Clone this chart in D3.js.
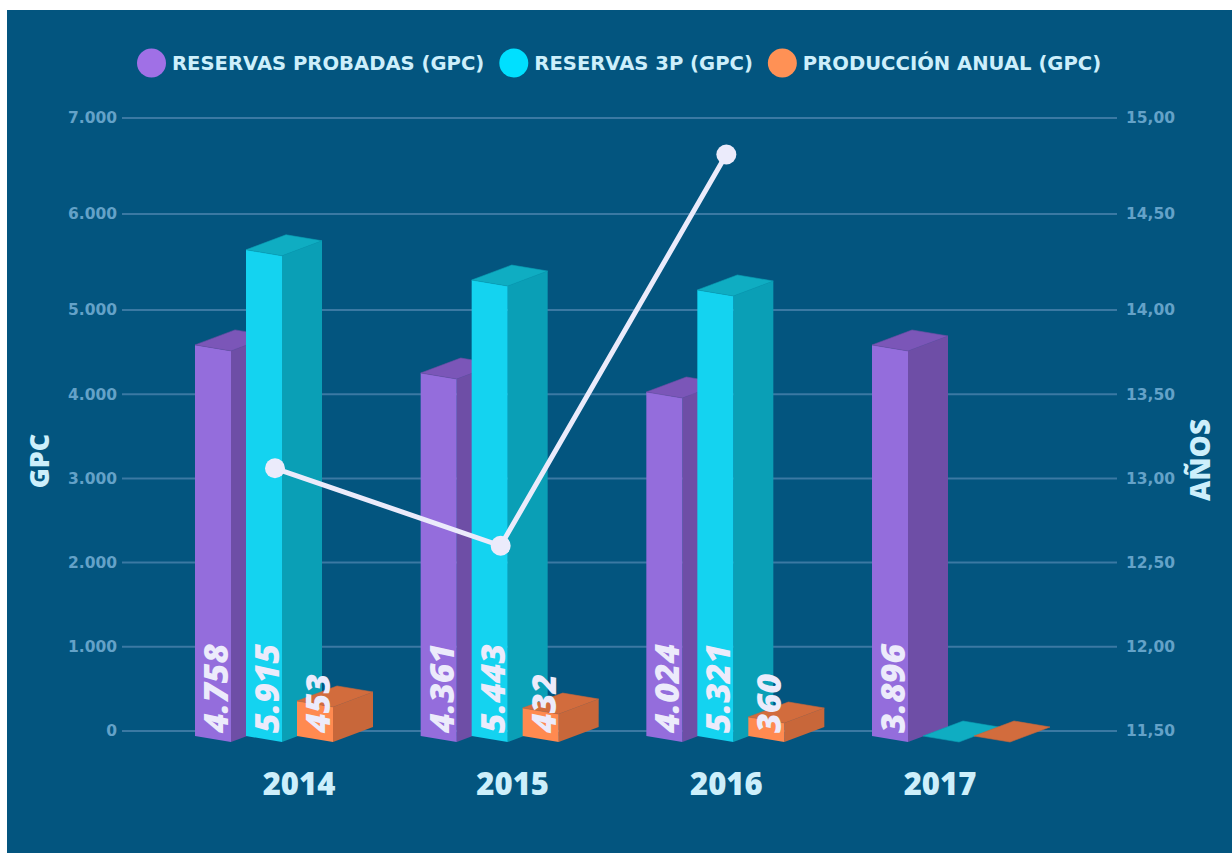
<!DOCTYPE html>
<html>
<head>
<meta charset="utf-8">
<script src="https://cdn.jsdelivr.net/npm/d3@7"></script>
<style>
  html, body { margin: 0; padding: 0; background: #ffffff; }
  svg { display: block; }
  text { font-family: "Open Sans", "DejaVu Sans", sans-serif; }
</style>
</head>
<body>
<svg id="chart" width="1232" height="853"></svg>
<script>
// ---------- DATA ----------
const years = ["2014", "2015", "2016", "2017"];
const seriesNames = ["RESERVAS PROBADAS (GPC)", "RESERVAS 3P (GPC)", "PRODUCCIÓN ANUAL (GPC)"];
// value labels printed on the bars
const reservasProbadas = [4758, 4361, 4024, 3896];
const reservas3P = [5915, 5443, 5321, 0];
const produccionAnual = [453, 432, 360, 0];
// bar heights as drawn in the picture (GPC units on the bar scale)
const probadasDrawn = [4758, 4416, 4185, 4757];
const reservas3PDrawn = [5915, 5547, 5426, 0];
const produccionDrawn = [426, 340, 231, 0];
const lineYears = ["2014", "2015", "2016"];
const anosValues = [13.06, 12.60, 14.81];
const leftTicks = [0, 1000, 2000, 3000, 4000, 5000, 6000, 7000];
const rightTicks = [11.5, 12, 12.5, 13, 13.5, 14, 14.5, 15];
const leftTitle = "GPC";
const rightTitle = "AÑOS";

// ---------- STYLE ----------
const bg = "#03557f";
const palette = [
  { legend: "#a070e6", front: "#946ddc", side: "#6e4ea6", top: "#7b56b8" },
  { legend: "#00e0ff", front: "#14d3f0", side: "#0a9fb6", top: "#0fadc2" },
  { legend: "#ff9155", front: "#ff8a50", side: "#c8673a", top: "#d26c3d" }
];
const lightText = "#cdeffb";
const tickText = "#64a2c8";
const gridColor = "#3b79a3";
const labelColor = "#ecebfb";
const wideFont = "'DejaVu Sans', sans-serif";

const loc = d3.formatLocale({ decimal: ",", thousands: ".", grouping: [3], currency: ["", ""] });
const fmtInt = loc.format(",.0f");
const fmtDec = loc.format(",.2f");

const svg = d3.select("#chart");
svg.append("rect").attr("x", 7).attr("y", 10).attr("width", 1225).attr("height", 843).attr("fill", bg);

// ---------- SCALES ----------
const yAxisL = d3.scaleLinear().domain([0, 5000, 7000]).range([731, 310, 118]);
const yAxisR = d3.scaleLinear().domain([11.5, 14, 15]).range([731, 310, 118]);
const baseY = 736;
const yBar = d3.scaleLinear().domain([0, 7000]).range([baseY, baseY - 7000 * 0.0822]);
const x0 = d3.scalePoint().domain(years).range([195, 872]);
const x1 = d3.scalePoint().domain(seriesNames).range([0, 102]);
const xLabel = d3.scalePoint().domain(years).range([299, 940]);
const gridX0 = 122, gridX1 = 1117;

// ---------- GRID + AXES ----------
svg.append("g").selectAll("line").data(leftTicks).join("line")
  .attr("x1", gridX0).attr("x2", gridX1)
  .attr("y1", d => yAxisL(d)).attr("y2", d => yAxisL(d))
  .attr("stroke", gridColor).attr("stroke-width", 2);

const axL = svg.append("g").attr("transform", `translate(${gridX0},0)`)
  .call(d3.axisLeft(yAxisL).tickValues(leftTicks).tickFormat(fmtInt).tickSize(0).tickPadding(5));
axL.select(".domain").remove();
axL.selectAll("text").attr("fill", tickText).attr("font-size", 15.5).attr("font-weight", 700)
  .style("font-family", wideFont);

const axR = svg.append("g").attr("transform", `translate(${gridX1},0)`)
  .call(d3.axisRight(yAxisR).tickValues(rightTicks).tickFormat(fmtDec).tickSize(0).tickPadding(9));
axR.select(".domain").remove();
axR.selectAll("text").attr("fill", tickText).attr("font-size", 15.5).attr("font-weight", 700)
  .style("font-family", wideFont);

svg.append("text").attr("transform", "translate(49,461) rotate(-90)")
  .attr("text-anchor", "middle").attr("fill", lightText).attr("font-size", 27).attr("font-weight", 800)
  .text(leftTitle);
svg.append("text").attr("transform", "translate(1210,460) rotate(-90)")
  .attr("text-anchor", "middle").attr("fill", lightText).attr("font-size", 28).attr("font-weight", 800)
  .text(rightTitle);

// ---------- 3D BARS ----------
const seriesLabels = [reservasProbadas, reservas3P, produccionAnual];
const seriesDrawn = [probadasDrawn, reservas3PDrawn, produccionDrawn];
const fw = [36, 6];    // front face vector
const dp = [40, -15];  // depth vector
const bars = [];
years.forEach((yr, i) => {
  seriesNames.forEach((s, j) => {
    bars.push({ year: yr, series: j, label: seriesLabels[j][i], value: seriesDrawn[j][i], fx: x0(yr) + x1(s) });
  });
});
const pts = a => a.map(p => p.join(",")).join(" ");
const barG = svg.append("g");
bars.forEach(b => {
  const c = palette[b.series];
  const by = baseY, ty = yBar(b.value), fx = b.fx;
  const g = barG.append("g");
  g.append("polygon").attr("points", pts([[fx + fw[0], ty + fw[1]], [fx + fw[0] + dp[0], ty + fw[1] + dp[1]], [fx + fw[0] + dp[0], by + fw[1] + dp[1]], [fx + fw[0], by + fw[1]]]))
    .attr("fill", c.side);
  g.append("polygon").attr("points", pts([[fx, ty], [fx + fw[0], ty + fw[1]], [fx + fw[0], by + fw[1]], [fx, by]]))
    .attr("fill", c.front);
  g.append("polygon").attr("points", pts([[fx, ty], [fx + fw[0], ty + fw[1]], [fx + fw[0] + dp[0], ty + fw[1] + dp[1]], [fx + dp[0], ty + dp[1]]]))
    .attr("fill", c.top).attr("stroke", c.side).attr("stroke-width", 0.6);
});

// value labels
svg.append("g").selectAll("text").data(bars.filter(b => b.label > 0)).join("text")
  .attr("transform", b => `translate(${b.fx + 33},${baseY - 3}) rotate(-90)`)
  .attr("fill", labelColor).attr("font-size", 34).attr("font-weight", 800).attr("font-style", "italic")
  .style("font-family", "'Open Sans', sans-serif")
  .text(b => fmtInt(b.label));

// year labels
svg.append("g").selectAll("text").data(years).join("text")
  .attr("x", d => xLabel(d)).attr("y", 795).attr("text-anchor", "middle")
  .attr("fill", lightText).attr("font-size", 31).attr("font-weight", 800)
  .text(d => d);

// ---------- LINE ----------
const lineData = lineYears.map((y, i) => ({ year: y, v: anosValues[i] }));
const lx = d => x0(d.year) + 80;
svg.append("path").datum(lineData)
  .attr("d", d3.line().x(lx).y(d => yAxisR(d.v)))
  .attr("fill", "none").attr("stroke", "#ebebfb").attr("stroke-width", 5);
svg.append("g").selectAll("circle").data(lineData).join("circle")
  .attr("cx", lx).attr("cy", d => yAxisR(d.v)).attr("r", 10).attr("fill", "#ebebfb");

// ---------- LEGEND ----------
const leg = svg.append("g");
let cx = 137;
seriesNames.forEach((s, j) => {
  const r = 14.5;
  leg.append("circle").attr("cx", cx + r).attr("cy", 63).attr("r", r).attr("fill", palette[j].legend);
  const t = leg.append("text").attr("x", cx + 2 * r + 6).attr("y", 70)
    .attr("fill", lightText).attr("font-size", 19.6).attr("font-weight", 700)
    .style("font-family", wideFont).text(s);
  cx += 2 * r + 6 + t.node().getComputedTextLength() + 15;
});
</script>
</body>
</html>
